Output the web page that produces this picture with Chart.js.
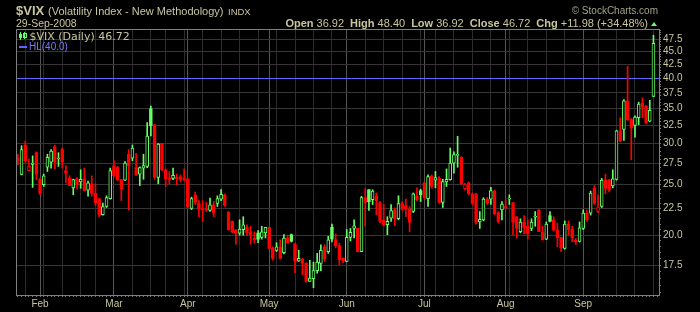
<!DOCTYPE html>
<html><head><meta charset="utf-8">
<script src="https://cdn.jsdelivr.net/npm/chart.js@4"></script>
<style>
html,body{margin:0;padding:0;background:#000;}
#wrap{position:relative;width:700px;height:312px;overflow:hidden;background:#000;}
#c{position:absolute;left:0;top:0;}
.t{position:absolute;white-space:nowrap;line-height:1;font-family:"Liberation Sans",Arial,sans-serif;color:#c9c59d;}
.t b{font-weight:bold;}
.g{margin-left:6px;}
</style></head>
<body>
<div id="wrap">
<canvas id="c" width="700" height="312"></canvas>
<div class="t" style="left:16px;top:4px;font-size:13px;font-weight:bold;">$VIX</div>
<div class="t" style="left:48px;top:6px;font-size:11px;">(Volatility Index - New Methodology)</div>
<div class="t" style="left:228px;top:7px;font-size:9.5px;">INDX</div>
<div class="t" style="left:16px;top:18px;font-size:10.5px;">29-Sep-2008</div>
<div class="t" style="right:52px;top:17.7px;font-size:11px;"><b>Open</b> 36.92<span class="g"><b>High</b> 48.40</span><span class="g"><b>Low</b> 36.92</span><span class="g"><b>Close</b> 46.72</span><span class="g"><b>Chg</b> +11.98 (+34.48%)</span></div>
<div style="position:absolute;left:651px;top:21.5px;width:0;height:0;border-left:3.5px solid transparent;border-right:3.5px solid transparent;border-bottom:4px solid #66ff66;"></div>
<div class="t" style="right:42px;top:5.5px;font-size:10px;color:#a3a28c;">© StockCharts.com</div>
<svg style="position:absolute;left:19px;top:32px;" width="9" height="8"><g fill="none" stroke="#66ff66" stroke-width="1"><line x1="1.5" y1="0" x2="1.5" y2="8"/><rect x="0.5" y="2.5" width="2" height="3" fill="#66ff66"/><line x1="5.5" y1="0" x2="5.5" y2="7"/><rect x="4.5" y="1.5" width="3" height="4"/></g></svg>
<div class="t" style="left:29.5px;top:31px;font-size:11px;font-family:'DejaVu Sans',sans-serif;">$VIX (Daily) 46.72</div>
<div style="position:absolute;left:19px;top:45.5px;width:8px;height:2px;background:#6464ff;"></div>
<div class="t" style="left:29px;top:42px;font-size:10px;color:#7878ff;">HL(40.0)</div>
</div>
<script>
const YEAR = 2008;
const dates = [
'01-24','01-25','01-28','01-29','01-30','01-31',
'02-01','02-04','02-05','02-06','02-07','02-08','02-11','02-12','02-13','02-14','02-15','02-19','02-20','02-21','02-22','02-25','02-26','02-27','02-28','02-29',
'03-03','03-04','03-05','03-06','03-07','03-10','03-11','03-12','03-13','03-14','03-17','03-18','03-19','03-20','03-24','03-25','03-26','03-27','03-28','03-31',
'04-01','04-02','04-03','04-04','04-07','04-08','04-09','04-10','04-11','04-14','04-15','04-16','04-17','04-18','04-21','04-22','04-23','04-24','04-25','04-28','04-29','04-30',
'05-01','05-02','05-05','05-06','05-07','05-08','05-09','05-12','05-13','05-14','05-15','05-16','05-19','05-20','05-21','05-22','05-23','05-27','05-28','05-29','05-30',
'06-02','06-03','06-04','06-05','06-06','06-09','06-10','06-11','06-12','06-13','06-16','06-17','06-18','06-19','06-20','06-23','06-24','06-25','06-26','06-27','06-30',
'07-01','07-02','07-03','07-07','07-08','07-09','07-10','07-11','07-14','07-15','07-16','07-17','07-18','07-21','07-22','07-23','07-24','07-25','07-28','07-29','07-30','07-31',
'08-01','08-04','08-05','08-06','08-07','08-08','08-11','08-12','08-13','08-14','08-15','08-18','08-19','08-20','08-21','08-22','08-25','08-26','08-27','08-28','08-29',
'09-02','09-03','09-04','09-05','09-08','09-09','09-10','09-11','09-12','09-15','09-16','09-17','09-18','09-19','09-22','09-23','09-24','09-25','09-26','09-29'
];
const opens = [
28.13,26.17,29.8,26.6,27.35,28.8,25.6,25.0,27.0,27.6,
29.6,28.0,29.2,26.6,25.7,24.65,25.65,25.3,25.65,24.4,
25.1,24.1,23.5,21.9,22.7,23.5,27.2,27.0,25.56,25.5,
28.6,28.1,26.95,26.2,26.9,27.1,35.0,32.6,25.8,30.0,
26.7,25.7,25.7,25.85,25.9,25.75,25.65,22.5,23.9,23.05,
22.5,22.45,22.3,22.88,23.0,23.46,23.9,22.15,21.25,20.48,
20.17,20.48,20.7,20.3,19.75,20.2,19.8,20.2,20.7,18.9,
18.7,19.0,18.5,19.75,20.04,19.25,17.82,18.0,17.65,16.3,
16.5,17.1,17.65,19.0,18.6,20.7,19.62,19.1,18.05,17.8,
19.8,20.6,20.6,18.6,23.6,24.45,23.4,23.75,23.1,21.35,
20.95,21.55,22.38,21.5,23.0,22.8,22.45,22.2,23.8,24.35,
25.2,23.5,26.0,25.5,25.75,23.1,25.3,25.56,27.5,28.45,
28.25,24.55,25.2,24.0,24.0,21.2,21.4,23.45,23.45,24.3,
22.1,22.35,22.7,23.45,23.1,21.7,20.3,21.2,20.8,20.6,
21.65,22.38,20.3,19.65,21.8,21.4,20.48,19.8,18.85,21.0,
20.55,19.55,19.45,20.6,22.05,22.05,24.6,22.2,22.7,25.56,
25.5,24.85,25.6,31.7,31.9,36.2,33.35,32.5,33.6,35.9,
35.4,33.1,36.92
];
const highs = [
28.6,29.7,30.3,28.0,28.4,28.9,25.7,26.2,28.6,29.2,
29.8,28.8,29.4,27.2,26.0,25.6,25.8,26.7,26.9,25.4,
26.0,25.1,23.5,23.05,23.8,26.9,27.8,27.1,25.6,27.7,
29.2,29.8,28.7,27.05,28.6,32.9,35.4,32.6,30.0,30.0,
26.8,26.5,26.9,26.2,26.1,26.8,25.7,23.65,24.2,23.3,
23.3,23.1,23.55,23.2,23.8,24.45,24.0,22.2,21.3,20.5,
21.4,21.7,20.94,20.8,20.3,20.4,20.8,20.7,20.7,19.0,
19.35,19.6,20.04,20.0,20.1,19.3,18.7,18.05,17.7,17.9,
17.75,18.45,19.17,19.17,19.9,21.0,20.1,19.3,18.1,20.5,
20.6,21.4,20.6,23.75,24.55,24.45,24.45,24.1,23.2,22.9,
21.7,22.9,22.55,23.8,23.2,23.45,22.7,24.1,24.65,24.5,
25.3,26.1,26.1,26.5,25.9,25.6,26.8,29.4,28.9,30.95,
28.3,25.15,25.3,24.1,24.05,22.2,23.6,23.6,24.7,24.4,
22.2,23.2,23.4,23.9,23.1,21.7,21.5,21.8,21.4,21.5,
22.2,22.4,20.8,21.2,22.2,21.7,21.1,19.8,21.3,21.3,
20.8,19.7,21.2,22.38,22.38,24.3,24.9,23.9,25.7,26.2,
25.6,26.7,31.8,33.6,36.4,42.2,33.5,33.9,36.0,36.7,
35.5,36.3,48.4
];
const lows = [
27.3,26.1,27.6,26.6,24.7,25.56,23.9,24.8,26.5,26.9,
26.8,27.1,26.9,25.2,24.9,23.9,24.5,24.6,24.3,23.75,
23.75,22.8,21.7,21.85,22.6,23.45,25.9,25.45,23.3,25.45,
22.35,27.8,26.0,24.9,25.6,26.95,31.0,25.6,25.1,26.6,
24.8,25.1,25.56,25.0,25.3,25.45,22.6,22.4,22.9,21.7,
21.25,22.2,22.2,21.7,22.7,23.3,22.7,20.45,20.2,19.2,
20.0,20.0,19.95,19.2,19.3,19.35,19.65,19.75,18.8,17.9,
18.6,18.0,18.4,19.3,19.4,16.95,17.8,16.8,16.25,16.3,
15.85,16.9,17.1,17.8,18.45,19.4,18.9,17.55,17.7,17.8,
19.5,19.75,18.6,18.6,20.8,22.3,22.9,21.9,21.1,20.85,
20.04,21.25,20.85,21.4,22.3,21.7,20.3,22.1,23.3,23.2,
23.5,22.7,24.6,24.65,23.0,22.6,24.8,25.5,26.3,27.0,
25.0,24.4,23.9,22.9,21.0,20.6,21.3,22.9,22.9,21.9,
21.1,21.4,22.4,22.9,20.04,19.75,20.2,20.1,19.65,20.4,
20.8,20.3,19.55,19.6,21.2,20.35,19.0,18.6,18.8,20.0,
19.4,19.2,19.4,20.5,21.25,21.85,22.9,22.1,22.6,24.0,
24.2,24.65,25.5,30.2,30.4,33.2,27.9,30.85,32.6,33.6,
32.7,33.0,36.92
];
const closes = [
27.73,29.19,27.8,27.1,27.5,26.2,24.05,26.0,28.2,29.0,
27.6,28.1,27.6,26.3,24.9,25.56,25.0,25.6,24.35,25.2,
24.05,23.05,21.9,22.7,23.6,26.6,26.0,25.5,24.5,27.5,
27.2,29.4,26.1,26.95,27.2,31.0,32.4,25.8,29.9,26.7,
25.65,25.6,26.05,25.65,25.6,25.58,22.65,23.5,23.1,22.4,
22.35,22.3,22.88,22.05,23.5,23.95,22.8,20.48,20.3,20.17,
20.55,20.94,20.2,20.05,19.55,19.62,20.3,20.7,18.86,18.05,
19.0,18.05,19.75,19.35,19.45,17.8,18.05,17.65,16.3,16.55,
17.1,17.75,18.7,18.0,19.6,19.65,19.1,17.95,17.83,19.8,
20.25,20.85,18.6,23.6,23.1,23.2,24.3,23.3,21.25,20.94,
21.25,22.3,21.5,23.0,22.55,22.4,21.15,24.0,23.4,23.9,
23.6,25.9,24.8,25.8,23.1,25.35,25.6,27.5,28.55,28.6,
25.1,25.0,24.0,23.0,21.15,21.45,23.45,23.05,24.35,22.0,
21.25,22.95,22.57,23.5,21.15,20.6,21.2,20.7,20.1,21.2,
21.7,20.3,19.6,21.0,21.25,20.45,19.75,18.9,21.0,20.48,
19.75,19.43,20.65,22.05,21.4,24.1,23.0,22.65,25.5,24.6,
24.4,25.65,31.7,30.3,36.2,33.3,32.1,33.7,35.7,35.2,
32.9,34.74,46.72
];
const priorClose = 29.0;
const hlLevel = 40.0;
const yTickValues = [17.5,20.0,22.5,25.0,27.5,30.0,32.5,35.0,37.5,40.0,42.5,45.0,47.5];
const MONTHS = ['Jan','Feb','Mar','Apr','May','Jun','Jul','Aug','Sep','Oct','Nov','Dec'];

const GREEN = '#66ff66', RED = '#ff0000';
const TXT = '#c9c59d';

const dObjs = dates.map(d => new Date(YEAR, +d.slice(0,2)-1, +d.slice(3)));
const monthStart = dObjs.map((d,i) => i>0 && d.getMonth() !== dObjs[i-1].getMonth());
const weekStart = dObjs.map((d,i) => i>0 && d.getDay() < dObjs[i-1].getDay());

const col = closes.map((c,i) => c >= (i ? closes[i-1] : priorClose) ? GREEN : RED);
const fill = closes.map((c,i) => c < opens[i] ? col[i] : '#000');

const labels = dates.concat(['']);

const yMinor = [];
for (let v = 15.5; v <= 49.5001; v += 0.5) yMinor.push(Math.round(v*10)/10);
const isMajor = v => yTickValues.some(t => Math.abs(t - v) < 1e-6);

const overlay = {
  id: 'overlay',
  beforeDatasetsDraw(chart) {
    const {ctx, chartArea: a, scales: {y}} = chart;
    const py = Math.round(y.getPixelForValue(hlLevel)) + 0.5;
    ctx.save();
    ctx.strokeStyle = '#6464ff'; ctx.lineWidth = 1;
    ctx.beginPath(); ctx.moveTo(a.left, py); ctx.lineTo(a.right, py); ctx.stroke();
    ctx.restore();
  },
  afterDraw(chart) {
    const {ctx, chartArea: a} = chart;
    ctx.save();
    ctx.strokeStyle = '#808080'; ctx.lineWidth = 1;
    const l = Math.floor(a.left) + 0.5, t = Math.floor(a.top) + 0.5;
    ctx.beginPath();
    ctx.moveTo(l, Math.round(a.bottom)); ctx.lineTo(l, t); ctx.lineTo(Math.round(a.right), t);
    ctx.stroke();
    ctx.restore();
  }
};

new Chart(document.getElementById('c'), {
  type: 'bar',
  data: {
    labels,
    datasets: [
      {
        label: 'body',
        data: opens.map((o,i) => [o, closes[i]]),
        backgroundColor: fill,
        borderColor: col,
        borderWidth: 1,
        borderSkipped: false,
        barThickness: 3,
        minBarLength: 1,
        grouped: false,
        order: 1
      },
      {
        label: 'range',
        data: lows.map((l,i) => [l, highs[i]]),
        backgroundColor: col,
        borderWidth: 0,
        barThickness: 1,
        grouped: false,
        order: 2
      }
    ]
  },
  options: {
    responsive: false,
    animation: false,
    devicePixelRatio: 1,
    layout: { padding: { left: 16, top: 29, right: 0, bottom: 0 } },
    plugins: { legend: { display: false }, tooltip: { enabled: false } },
    scales: {
      x: {
        type: 'category',
        offset: true,
        grid: {
          offset: false,
          color: ctx => monthStart[ctx.index] ? '#555555' : (weekStart[ctx.index] ? '#2c2c2c' : 'rgba(0,0,0,0)'),
          tickColor: '#777777',
          tickLength: 2,
          drawTicks: true
        },
        border: { color: '#808080' },
        ticks: {
          autoSkip: false, maxRotation: 0, minRotation: 0, padding: 1,
          color: TXT,
          font: { family: 'Liberation Sans', size: 10 },
          callback: (v, i) => monthStart[i] ? MONTHS[dObjs[i].getMonth()] : ''
        },
        afterFit: s => { s.height = 17; }
      },
      y: {
        type: 'logarithmic',
        position: 'right',
        min: 15.35, max: 49.75,
        afterBuildTicks: s => { s.ticks = yMinor.map(v => ({ value: v })); },
        grid: {
          color: ctx => (ctx.tick && isMajor(ctx.tick.value)) ? '#363636' : 'rgba(0,0,0,0)',
          tickColor: '#777777',
          tickLength: 2,
          drawTicks: true
        },
        border: { color: '#808080' },
        ticks: {
          autoSkip: false, padding: 2,
          color: TXT,
          font: { family: 'Liberation Sans', size: 10 },
          callback: v => isMajor(v) ? Number(v).toFixed(1) : ''
        },
        afterFit: s => { s.width = 41; }
      }
    }
  },
  plugins: [overlay]
});
</script>
</body></html>
